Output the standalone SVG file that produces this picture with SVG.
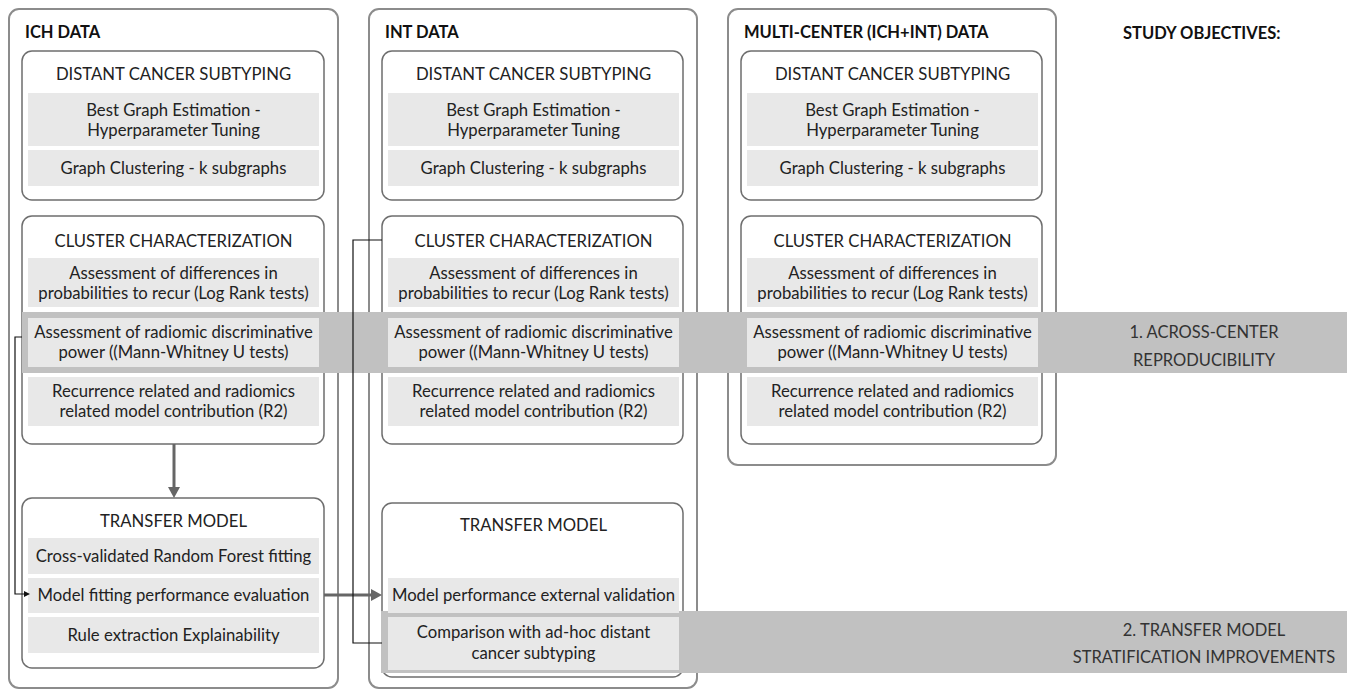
<svg xmlns="http://www.w3.org/2000/svg" width="1351" height="690" viewBox="0 0 1351 690">
<style>
.col{fill:none;stroke:#8c8c8c;stroke-width:2}
.sec{fill:none;stroke:#6e6e6e;stroke-width:1.5}
.step{fill:#e8e8e8}
.band{fill:#c1c1c1}
.h{font-family:Lato,"Noto Sans",sans-serif;font-weight:700;font-size:16.5px;fill:#111}
.t{font-family:Lato,"Noto Sans",sans-serif;font-size:16.7px;fill:#222;text-anchor:middle}
.o{font-family:Lato,"Noto Sans",sans-serif;font-size:16.5px;fill:#333;text-anchor:middle}
.garrow{fill:none;stroke:#666;stroke-width:3}
.karrow{fill:none;stroke:#111;stroke-width:1.2}
</style>
<defs>
<marker id="gah" markerUnits="userSpaceOnUse" markerWidth="12" markerHeight="12" refX="0" refY="6" orient="auto"><path d="M0,0 L11,6 L0,12 z" fill="#666"/></marker>
<marker id="kah" markerUnits="userSpaceOnUse" markerWidth="7" markerHeight="7" refX="0" refY="3" orient="auto"><path d="M0,0 L6,3 L0,6 z" fill="#111"/></marker>
</defs>
<rect width="1351" height="690" fill="#fff"/>

<!-- Columns -->
<g id="col-ich"><rect class="col" x="9" y="9" width="329" height="679" rx="10"/><text class="h" x="25" y="38">ICH DATA</text></g>
<g id="col-int"><rect class="col" x="369" y="9" width="328" height="679" rx="10"/><text class="h" x="385" y="38">INT DATA</text></g>
<g id="col-multi"><rect class="col" x="728" y="9" width="328" height="456" rx="10"/><text class="h" x="744" y="38">MULTI-CENTER (ICH+INT) DATA</text></g>
<g id="objectives-title"><text class="h" x="1123" y="39">STUDY OBJECTIVES:</text></g>

<!-- Section boxes -->
<g id="ich-subtyping"><rect class="sec" x="22" y="51" width="302" height="149" rx="10"/><text class="t" x="173.5" y="80">DISTANT CANCER SUBTYPING</text></g>
<g id="ich-cluster"><rect class="sec" x="22" y="216" width="302" height="228" rx="10"/><text class="t" x="173.5" y="247">CLUSTER CHARACTERIZATION</text></g>
<g id="ich-transfer"><rect class="sec" x="22" y="498" width="302" height="170" rx="10"/><text class="t" x="173.5" y="527">TRANSFER MODEL</text></g>

<g id="int-subtyping"><rect class="sec" x="382" y="51" width="301" height="149" rx="10"/><text class="t" x="533.5" y="80">DISTANT CANCER SUBTYPING</text></g>
<g id="int-cluster"><rect class="sec" x="382" y="216" width="301" height="228" rx="10"/><text class="t" x="533.5" y="247">CLUSTER CHARACTERIZATION</text></g>
<g id="int-transfer"><rect class="sec" x="382" y="503" width="301" height="174" rx="10"/><text class="t" x="533.5" y="531">TRANSFER MODEL</text></g>

<g id="multi-subtyping"><rect class="sec" x="741" y="51" width="301" height="149" rx="10"/><text class="t" x="892.5" y="80">DISTANT CANCER SUBTYPING</text></g>
<g id="multi-cluster"><rect class="sec" x="741" y="216" width="301" height="228" rx="10"/><text class="t" x="892.5" y="247">CLUSTER CHARACTERIZATION</text></g>

<!-- Objective bands -->
<g id="objective-1"><rect class="band" x="22" y="312" width="1325" height="61"/><text class="o" x="1204" y="338">1. ACROSS-CENTER</text><text class="o" x="1204" y="366">REPRODUCIBILITY</text></g>
<g id="objective-2"><rect class="band" x="381" y="611" width="966" height="62"/><text class="o" x="1204" y="636">2. TRANSFER MODEL</text><text class="o" x="1204" y="663">STRATIFICATION IMPROVEMENTS</text></g>

<!-- ICH steps -->
<g id="ich-s1"><rect class="step" x="28" y="93" width="291" height="53"/><text class="t" x="173.5" y="116">Best Graph Estimation -</text><text class="t" x="173.5" y="136">Hyperparameter Tuning</text></g>
<g id="ich-s2"><rect class="step" x="28" y="150" width="291" height="36"/><text class="t" x="173.5" y="174">Graph Clustering - k subgraphs</text></g>
<g id="ich-c1"><rect class="step" x="28" y="258" width="291" height="49"/><text class="t" x="173.5" y="279">Assessment of differences in</text><text class="t" x="173.5" y="299">probabilities to recur (Log Rank tests)</text></g>
<g id="ich-c2"><rect class="step" x="28" y="318" width="291" height="49"/><text class="t" x="173.5" y="338">Assessment of radiomic discriminative</text><text class="t" x="173.5" y="358">power ((Mann-Whitney  U  tests)</text></g>
<g id="ich-c3"><rect class="step" x="28" y="377" width="291" height="49"/><text class="t" x="173.5" y="397">Recurrence related and radiomics</text><text class="t" x="173.5" y="417">related model contribution (R2)</text></g>
<g id="ich-t1"><rect class="step" x="28" y="538" width="291" height="36"/><text class="t" x="173.5" y="562">Cross-validated Random Forest fitting</text></g>
<g id="ich-t2"><rect class="step" x="28" y="578" width="291" height="35"/><text class="t" x="173.5" y="601">Model fitting performance evaluation</text></g>
<g id="ich-t3"><rect class="step" x="28" y="617" width="291" height="36"/><text class="t" x="173.5" y="641">Rule extraction Explainability</text></g>

<!-- INT steps -->
<g id="int-s1"><rect class="step" x="388" y="93" width="291" height="53"/><text class="t" x="533.5" y="116">Best Graph Estimation -</text><text class="t" x="533.5" y="136">Hyperparameter Tuning</text></g>
<g id="int-s2"><rect class="step" x="388" y="150" width="291" height="36"/><text class="t" x="533.5" y="174">Graph Clustering - k subgraphs</text></g>
<g id="int-c1"><rect class="step" x="388" y="258" width="291" height="49"/><text class="t" x="533.5" y="279">Assessment of differences in</text><text class="t" x="533.5" y="299">probabilities to recur (Log Rank tests)</text></g>
<g id="int-c2"><rect class="step" x="388" y="318" width="291" height="49"/><text class="t" x="533.5" y="338">Assessment of radiomic discriminative</text><text class="t" x="533.5" y="358">power ((Mann-Whitney  U  tests)</text></g>
<g id="int-c3"><rect class="step" x="388" y="377" width="291" height="49"/><text class="t" x="533.5" y="397">Recurrence related and radiomics</text><text class="t" x="533.5" y="417">related model contribution (R2)</text></g>
<g id="int-t1"><rect class="step" x="388" y="578" width="291" height="35"/><text class="t" x="533.5" y="601">Model performance external validation</text></g>
<g id="int-t2"><rect class="step" x="388" y="617" width="291" height="53"/><text class="t" x="533.5" y="638">Comparison with ad-hoc distant</text><text class="t" x="533.5" y="659">cancer subtyping</text></g>

<!-- Multi steps -->
<g id="multi-s1"><rect class="step" x="747" y="93" width="291" height="53"/><text class="t" x="892.5" y="116">Best Graph Estimation -</text><text class="t" x="892.5" y="136">Hyperparameter Tuning</text></g>
<g id="multi-s2"><rect class="step" x="747" y="150" width="291" height="36"/><text class="t" x="892.5" y="174">Graph Clustering - k subgraphs</text></g>
<g id="multi-c1"><rect class="step" x="747" y="258" width="291" height="49"/><text class="t" x="892.5" y="279">Assessment of differences in</text><text class="t" x="892.5" y="299">probabilities to recur (Log Rank tests)</text></g>
<g id="multi-c2"><rect class="step" x="747" y="318" width="291" height="49"/><text class="t" x="892.5" y="338">Assessment of radiomic discriminative</text><text class="t" x="892.5" y="358">power ((Mann-Whitney  U  tests)</text></g>
<g id="multi-c3"><rect class="step" x="747" y="377" width="291" height="49"/><text class="t" x="892.5" y="397">Recurrence related and radiomics</text><text class="t" x="892.5" y="417">related model contribution (R2)</text></g>

<!-- Connectors -->
<g id="connectors">
<line class="garrow" x1="174" y1="444" x2="174" y2="487" marker-end="url(#gah)"/>
<line class="garrow" x1="324" y1="595" x2="371" y2="595" marker-end="url(#gah)"/>
<path class="karrow" d="M22,337 H15 V594 H24" marker-end="url(#kah)"/>
<path class="karrow" d="M382,240 H353 V643 H382"/>
</g>
</svg>
